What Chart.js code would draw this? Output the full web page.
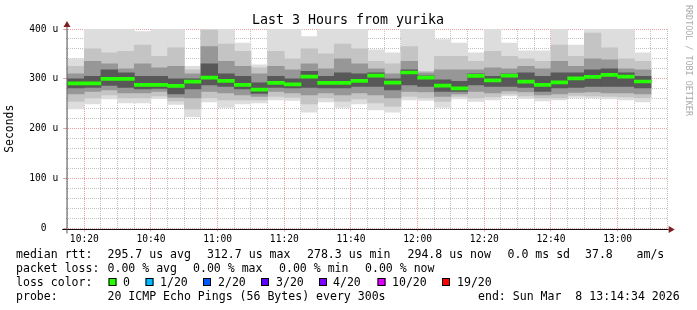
<!DOCTYPE html>
<html><head><meta charset="utf-8">
<script src="https://cdn.jsdelivr.net/npm/chart.js@4"></script>
<style>html,body{margin:0;padding:0;background:#fff;}canvas{display:block}</style>
</head><body>
<canvas id="c" width="697" height="310"></canvas>
<script>
// ---- data ----
const startTime = "10:14:34";
const endTime = "13:14:34";
const barEnd = ["10:20","10:25","10:30","10:35","10:40","10:45","10:50","10:55","11:00","11:05",
  "11:10","11:15","11:20","11:25","11:30","11:35","11:40","11:45","11:50","11:55",
  "12:00","12:05","12:10","12:15","12:20","12:25","12:30","12:35","12:40","12:45",
  "12:50","12:55","13:00","13:05","13:10"];
const median = [291,291,300,300,288,288,286,294.5,302.5,296,
  288,278.3,292,289,304.5,292,292,296,306.5,292.5,
  312.7,302.5,286.5,281,306,297,306.5,294.5,288,293,
  301,304,308,304.5,294.8];
const minRtt = [240,250,260,252,252,261,249,224,254,243,
  250,252,258,257,233,254,243,250,238,233,
  258,257,243,260,255,258,266,261,256,258,
  263,262,260,258,254];
const maxRtt = [340,400,400,400,395,400,400,325,400,400,
  372,328,400,400,385,400,400,400,358,352,
  400,400,379,372,352,400,372,356,356,400,
  368,400,400,400,352];
const lo1 = [255,262,268,262,262,266,256,240,262,258,
  258,258,265,263,250,262,255,260,252,245,
  265,262,255,265,262,264,270,266,262,262,
  267,266,265,264,262];
const hi1 = [325,360,352,355,368,345,362,318,398,370,
  355,322,355,340,360,350,370,360,335,330,
  365,315,345,345,335,355,345,340,335,368,
  345,392,362,340,335];
const lo2 = [270,275,278,272,272,275,263,262,275,272,
  268,265,275,272,268,272,268,272,268,262,
  275,274,265,270,275,272,276,274,268,270,
  273,274,272,272,270];
const hi2 = [310,335,330,320,330,322,325,310,365,335,
  325,310,325,318,330,320,340,330,320,310,
  335,312,318,318,318,322,320,325,320,335,
  325,340,338,320,318];
const lo3 = [282,283,287,283,280,281,270,280,288,285,
  280,271,283,282,283,282,282,285,285,278,
  288,285,275,275,288,285,285,283,275,282,
  283,285,285,285,282];
const hi3 = [300,305,318,312,305,305,300,300,330,310,
  305,292,305,300,315,305,312,310,312,300,
  318,306,298,295,310,305,310,312,305,312,
  312,318,320,312,305];
const xTickLabels = ["10:20","10:40","11:00","11:20","11:40","12:00","12:20","12:40","13:00"];
const yTickValues = [0,100,200,300,400];
const yTickLabels = ["0","100 u","200 u","300 u","400 u"];
const lossLabels = ["0","1/20","2/20","3/20","4/20","10/20","19/20"];
const lossColors = ["#26ff00","#00b8ff","#0059ff","#5e00ff","#7e00ff","#dd00ff","#ff0000"];
const title = "Last 3 Hours from yurika";
const yTitle = "Seconds";
const watermark = "RRDTOOL / TOBI OETIKER";
const legendRows = [
  [["median rtt:",16],["295.7 us avg",107.5],["312.7 us max",207],["278.3 us min",307],["294.8 us now",407.5],["0.0 ms sd",507.5],["37.8",585],["am/s",636.5]],
  [["packet loss:",16],["0.00 % avg",107.5],["0.00 % max",193],["0.00 % min",279],["0.00 % now",365]],
  [["loss color:",16]],
  [["probe:",16],["20 ICMP Echo Pings (56 Bytes) every 300s",107.5],["end: Sun Mar  8 13:14:34 2026",478]]
];

// ---- helpers ----
const MONO = '"DejaVu Sans Mono", monospace';
const STEP = 5;
function toMin(t){const p=t.split(':').map(Number);return p[0]*60+p[1]+(p[2]||0)/60;}
function fmt(m){m=Math.round(m);const h=Math.floor(m/60),mm=m%60;return String(h).padStart(2,'0')+':'+String(mm).padStart(2,'0');}
const t0 = toMin(startTime), t1 = toMin(endTime);
const xs = barEnd.map(t => toMin(t) - t0 - STEP/2);
const range = (lo,hi) => xs.map((x,i)=>({x, y:[lo[i], hi[i]]}));
const MED_HALF = 3;
const isMajorX = v => Math.round(v + t0) % 20 === 0;
const MINOR = '#c2c2c2', MAJOR = '#eda0a0';

const barBase = {grouped:false, borderWidth:0, barPercentage:1, categoryPercentage:1};
const datasets = [
  Object.assign({label:'median', data: xs.map((x,i)=>({x, y:[median[i]-MED_HALF, median[i]+MED_HALF]})), backgroundColor:'#26ff00', order:0}, barBase),
  Object.assign({label:'l3', data: range(lo3,hi3), backgroundColor:'#585858', order:1}, barBase),
  Object.assign({label:'l2', data: range(lo2,hi2), backgroundColor:'#979797', order:2}, barBase),
  Object.assign({label:'l1', data: range(lo1,hi1), backgroundColor:'#c4c4c4', order:3}, barBase),
  Object.assign({label:'l0', data: range(minRtt,maxRtt), backgroundColor:'#dddddd', order:4}, barBase),
];

const LEFT = 66.2, PXMIN = 600/180;
const XMAX = 180.45;
const RIGHT = LEFT + XMAX*PXMIN;
const BOTTOM = 228.5, TOP = 29;

const decor = {
  id:'decor',
  beforeDraw(c){const ctx=c.ctx;ctx.save();ctx.fillStyle='#fff';ctx.fillRect(0,0,c.width,c.height);ctx.restore();},
  afterDraw(c){
    const ctx=c.ctx, a=c.chartArea;
    const y0 = Math.round(c.scales.y.getPixelForValue(0))+0.5;
    const xa = a.left+0.8;
    ctx.save();
    // x axis
    ctx.strokeStyle='#111'; ctx.lineWidth=1;
    ctx.beginPath(); ctx.moveTo(a.left-4, y0); ctx.lineTo(a.right+1, y0); ctx.stroke();
    // y axis
    ctx.strokeStyle='#555';
    ctx.beginPath(); ctx.moveTo(xa, y0+4); ctx.lineTo(xa, TOP-3); ctx.stroke();
    // arrows
    ctx.fillStyle='#801f1f';
    ctx.beginPath(); ctx.moveTo(a.right+1, y0-3.5); ctx.lineTo(a.right+7, y0); ctx.lineTo(a.right+1, y0+3.5); ctx.closePath(); ctx.fill();
    ctx.beginPath(); ctx.moveTo(xa-3.5, TOP-2); ctx.lineTo(xa, TOP-8); ctx.lineTo(xa+3.5, TOP-2); ctx.closePath(); ctx.fill();
    // title
    ctx.fillStyle='#000'; ctx.textBaseline='alphabetic';
    ctx.font='13.3px '+MONO; ctx.textAlign='center';
    ctx.fillText(title, 348, 24);
    // y title
    ctx.save(); ctx.translate(10.5, (a.top+a.bottom)/2); ctx.rotate(-Math.PI/2);
    ctx.font='11.4px '+MONO; ctx.textAlign='center'; ctx.textBaseline='middle';
    ctx.fillText(yTitle, 0, 0); ctx.restore();
    // watermark
    ctx.save(); ctx.translate(688, 5); ctx.rotate(Math.PI/2);
    ctx.font='8.4px '+MONO; ctx.fillStyle='#aaaaaa'; ctx.textAlign='left'; ctx.textBaseline='middle';
    ctx.fillText(watermark, 0, 0); ctx.restore();
    // legend
    ctx.font='11.55px '+MONO; ctx.fillStyle='#000'; ctx.textAlign='left'; ctx.textBaseline='alphabetic';
    const base=[257.5,271.5,285.5,299.5];
    legendRows.forEach((row,r)=>row.forEach(([t,x])=>ctx.fillText(t,x,base[r])));
    const boxX=[108.5,145.5,203,261,319,377.5,442];
    const txtX=[123,160,218,276,333,392,457];
    lossLabels.forEach((l,i)=>{
      ctx.fillStyle=lossColors[i]; ctx.fillRect(boxX[i],278,8,8);
      ctx.strokeStyle='#000'; ctx.lineWidth=1; ctx.strokeRect(boxX[i]+0.5,278.5,7,7);
      ctx.fillStyle='#000'; ctx.fillText(l, txtX[i], base[2]);
    });
    ctx.restore();
  }
};

new Chart(document.getElementById('c'), {
  type:'bar',
  data:{datasets},
  options:{
    responsive:false, devicePixelRatio:1, animation:false,
    layout:{padding:{left:0, right:697-RIGHT, top:TOP, bottom:0}},
    plugins:{legend:{display:false}, tooltip:{enabled:false}},
    scales:{
      x:{
        type:'linear', min:0, max:XMAX, offset:false, z:1,
        afterFit(s){s.height = 310 - BOTTOM;},
        afterBuildTicks(s){
          const t=[]; for(let m=Math.ceil(t0/STEP)*STEP; m - t0 <= XMAX; m+=STEP) t.push({value:m-t0});
          s.ticks=t;
        },
        grid:{offset:false, lineWidth:1, drawTicks:true, tickLength:3,
          color:c=>isMajorX(c.tick.value)?MAJOR:MINOR,
          tickColor:c=>isMajorX(c.tick.value)?MAJOR:'rgba(0,0,0,0)'},
        border:{display:false, dash:[1,1]},
        ticks:{autoSkip:false, maxRotation:0, minRotation:0, padding:2, color:'#000',
          font:{family:MONO, size:9.6},
          callback(v){const s=fmt(v+t0); return xTickLabels.includes(s)?s:'';}}
      },
      y:{
        type:'linear', min:0, max:400, z:1,
        afterFit(s){s.width = LEFT;},
        afterBuildTicks(s){const t=[];for(let v=0;v<=400;v+=20)t.push({value:v});s.ticks=t;},
        grid:{lineWidth:1, drawTicks:true, tickLength:3,
          color:c=>c.tick.value%100===0?MAJOR:MINOR,
          tickColor:c=>c.tick.value%100===0?MAJOR:'rgba(0,0,0,0)'},
        border:{display:false, dash:[1,1]},
        ticks:{autoSkip:false, padding:5, color:'#000', font:{family:MONO, size:9.6},
          callback(v){const i=yTickValues.indexOf(v); if(i<0) return ''; const l=yTickLabels[i]; return l.includes(' ')?l:l+'  ';}}
      }
    }
  },
  plugins:[decor]
});
</script>
</body></html>
